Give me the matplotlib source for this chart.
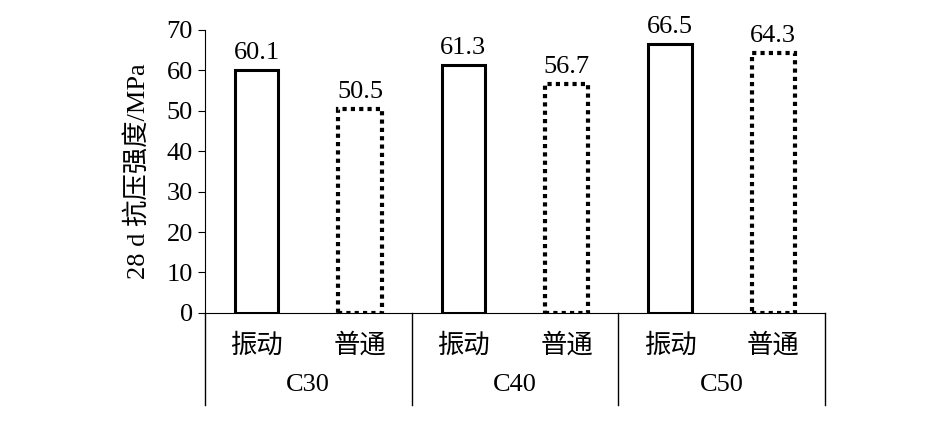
import matplotlib
matplotlib.use("Agg")
import matplotlib.pyplot as plt

groups = ["C30", "C40", "C50"]
methods = ["振动", "普通"]
values = [60.1, 50.5, 61.3, 56.7, 66.5, 64.3]

fam = ["Liberation Serif", "Noto Sans CJK SC"]
plt.rcParams['font.family'] = fam
fig = plt.figure(figsize=(9.27, 4.34), dpi=100)
ax = fig.add_axes([0.221, 0.279, 0.669, 0.652])
xs = list(range(len(values)))
fs = 19
for i, v in enumerate(values):
    ls = "-" if i % 2 == 0 else (0, (1, 1))
    ax.bar(i, v, width=0.42, facecolor="white", edgecolor="black",
           linewidth=2.2 if i % 2 == 0 else 3, linestyle=ls)
    ax.text(i, v + 1.5, f"{v}", ha="center", va="bottom", fontsize=fs)
ax.set_xlim(-0.5, 5.5)
ax.set_ylim(0, 70)
ax.set_yticks(range(0, 71, 10))
ax.tick_params(axis="y", labelsize=fs, direction="out", length=5)
ax.set_xticks([])
for s in ["top", "right"]:
    ax.spines[s].set_visible(False)
ax.set_ylabel("28 d 抗压强度/MPa", fontsize=fs, labelpad=12)
for i in xs:
    ax.text(i, -0.115, methods[i % 2], transform=ax.get_xaxis_transform(),
            ha="center", va="center", fontsize=fs)
for g, name in enumerate(groups):
    ax.text(2 * g + 0.5, -0.255, name, transform=ax.get_xaxis_transform(),
            ha="center", va="center", fontsize=fs)
for x in [-0.5, 1.5, 3.5, 5.5]:
    ax.plot([x, x], [0, -0.325], transform=ax.get_xaxis_transform(),
            color="black", lw=1, clip_on=False)
fig.savefig("out.png", dpi=100)
